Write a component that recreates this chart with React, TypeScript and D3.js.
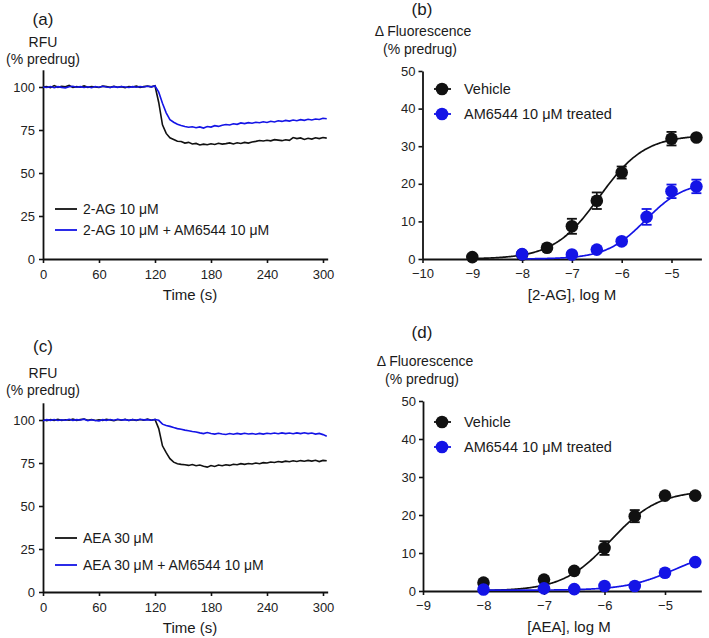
import { useEffect, useRef } from 'react'
import * as d3 from 'd3'

// sampling grid of the fluorescence traces (s)
const traceTimes = d3.range(0, 305, 4)

// panel (a): 2-AG traces, RFU % predrug
const agTrace = [
  100, 100.3, 99.6, 100.8, 99.8, 100.4, 100.1, 100.9, 99.7, 100.2, 99.9, 100.6, 99.8, 100.3, 100, 99.7,
  100.5, 100.2, 99.8, 100.4, 99.9, 100.2, 99.6, 100.3, 100, 100.5, 99.8, 100.2, 100.6, 100.1, 100.7,
  91, 78, 73, 70.5, 69.5, 68.5, 68.3, 67.4, 67.8, 66.9, 67.2, 66.3, 66.8, 66.4, 67, 66.6, 67.3, 66.8,
  67.1, 67.5, 66.9, 67.6, 67.2, 67.8, 67.4, 68, 68.4, 68.9, 68.6, 69, 68.7, 69.4, 69.1, 68.8, 69.3,
  69, 70.6, 70, 70.4, 69.5, 70.2, 69.7, 70.5, 70, 70.6, 70.3,
]
const agAmTrace = [
  100, 99.7, 100.3, 99.6, 100.2, 99.8, 99.5, 100.1, 100.4, 99.9, 100.2, 99.7, 100.1, 99.6, 100.3, 99.9,
  100.4, 100, 99.7, 100.2, 99.8, 100.3, 100, 99.7, 100.2, 99.9, 100.3, 100, 100.4, 100.1, 100.6,
  97, 90.5, 85, 81, 79.5, 78.3, 77.6, 77, 76.6, 76.9, 76.3, 76.8, 76.1, 77, 76.7, 77.5, 77.1, 77.8,
  78.2, 77.9, 78.6, 78.3, 79.1, 78.7, 79.3, 78.9, 79.5, 79.2, 79.8, 79.4, 80.1, 79.7, 80.4, 80, 80.6,
  80.2, 80.8, 80.4, 81, 80.6, 81.2, 80.8, 81.4, 81.1, 81.8, 81.5,
]

// panel (c): AEA traces
const aeaTrace = [
  100.3, 99.6, 100.2, 99.8, 100.4, 99.7, 100.1, 99.9, 100.5, 99.8, 100.2, 100.6, 99.9, 100.3, 99.7, 100.1,
  99.8, 100.4, 100, 99.6, 100.3, 99.9, 100.4, 99.7, 100.2, 99.8, 100.3, 99.9, 100.5, 99.9, 100.3,
  95, 85, 81, 77.5, 75.5, 74.6, 74.2, 74, 73.6, 74.1, 73.4, 73.8, 73.1, 72.6, 73.5, 73, 73.8, 73.4,
  74, 73.6, 74.3, 74, 74.6, 74.2, 74.7, 74.4, 75, 74.6, 75.2, 75, 75.6, 75.3, 75.9, 75.5, 76.1,
  75.7, 76.3, 75.9, 76.4, 76, 76.5, 76.1, 76.6, 75.8, 76.5, 76.3,
]
const aeaAmTrace = [
  99.6, 100.2, 99.8, 100.3, 99.7, 100.1, 99.9, 100.4, 99.8, 100.2, 100, 100.5, 99.6, 100.1, 99.7, 99.4,
  100.2, 99.8, 100.3, 99.9, 100.4, 100, 100.2, 99.8, 100.3, 99.9, 100.4, 100.1, 100.2, 99.9, 100.3,
  99.8, 97.6, 96.8, 96.3, 95.6, 95, 94.6, 94.1, 93.8, 93.3, 93, 92.5, 92.1, 92.7, 92.2, 91.8, 92.3,
  91.9, 91.6, 92.1, 91.7, 92.2, 91.8, 92.3, 91.9, 92.1, 91.7, 92.2, 91.8, 92.3, 92, 92.4, 92, 92.5,
  92.1, 92.4, 92, 92.5, 92.1, 92.6, 92.1, 92.4, 91.8, 92.2, 91.5, 90.6,
]

// panel (b): 2-AG concentration-response, log M / mean / SEM
const agLogDose = [-9, -8, -7.5, -7, -6.5, -6, -5, -4.5]
const agVehicle = [0.5, 1.2, 3, 8.7, 15.5, 23, 32, 32.3]
const agVehicleSem = [0.3, 0.3, 0.6, 2, 2.2, 1.6, 1.8, 0.6]
const agAmLogDose = [-8, -7, -6.5, -6, -5.5, -5, -4.5]
const agAm = [1.3, 1.2, 2.5, 4.7, 11.2, 18, 19.3]
const agAmSem = [0.3, 0.4, 0.6, 0.8, 2.1, 1.8, 1.8]

// panel (d): AEA concentration-response
const aeaLogDose = [-8, -7, -6.5, -6, -5.5, -5, -4.5]
const aeaVehicle = [2.2, 3, 5.3, 11.3, 19.7, 25.1, 25.1]
const aeaVehicleSem = [0.3, 0.4, 0.6, 1.8, 1.6, 0.6, 0.6]
const aeaAmLogDose = [-8, -7, -6.5, -6, -5.5, -5, -4.5]
const aeaAm = [0.4, 0.7, 0.5, 1.3, 1.3, 4.8, 7.6]
const aeaAmSem = [0.2, 0.2, 0.2, 0.3, 0.3, 0.5, 0.6]

// sigmoid fits: [bottom, top, logEC50, hill, fromX]
const agVehicleFit = [0, 33, -6.45, 0.95, -9]
const agAmFit = [0, 20.7, -5.52, 1.1, -8]
const aeaVehicleFit = [0, 26.5, -5.9, 1.1, -8]
const aeaAmFit = [0.2, 11, -4.85, 1.1, -8]

const traceTicks = [0, 60, 120, 180, 240, 300]
const rfuTicks = [0, 25, 50, 75, 100]
const deltaTicks = [0, 10, 20, 30, 40, 50]

const BLACK = '#111'
const BLUE = '#1414e6'
const FONT = '"Liberation Sans", Arial, sans-serif'

function App() {
  const svgRef = useRef(null)

  useEffect(() => {
    const svg = d3.select(svgRef.current)
    svg.selectAll('*').remove()

    const styleAxis = (g, fontSize = 13) => {
      g.select('.domain').attr('stroke', BLACK).attr('stroke-width', 1.8)
      g.selectAll('.tick line').attr('stroke', BLACK).attr('stroke-width', 1.6)
      g.selectAll('.tick text').attr('fill', '#222').style('font-family', FONT).style('font-size', `${fontSize}px`)
    }

    const text = (x, y, s, size, anchor = 'middle') =>
      svg
        .append('text')
        .attr('x', x)
        .attr('y', y)
        .attr('text-anchor', anchor)
        .style('font-family', FONT)
        .style('font-size', `${size}px`)
        .attr('fill', '#1a1a1a')
        .text(s)

    const tracePanel = (p) => {
      const x = d3.scaleLinear().domain([0, 305]).range([43, 43 + (280 * 305) / 300])
      const y = d3.scaleLinear().domain([0, 110]).range([p.y0, p.y0 - 172 * 1.1])

      svg
        .append('g')
        .attr('transform', `translate(0,${p.y0})`)
        .call(d3.axisBottom(x).tickValues(traceTicks).tickSize(4).tickSizeOuter(0).tickPadding(7))
        .call(styleAxis)
      svg
        .append('g')
        .attr('transform', 'translate(43,0)')
        .call(d3.axisLeft(y).tickValues(rfuTicks).tickSize(4).tickSizeOuter(0).tickPadding(4))
        .call(styleAxis)

      const line = d3
        .line()
        .x((d, i) => x(traceTimes[i]))
        .y((d) => y(d))
      p.series.forEach((s) => {
        svg.append('path').datum(s.values).attr('d', line).attr('fill', 'none')
          .attr('stroke', s.color).attr('stroke-width', 1.6)
      })

      p.series.forEach((s, i) => {
        const ly = p.legendY + i * (p.legendGap)
        svg.append('line').attr('x1', 55).attr('x2', 77).attr('y1', ly).attr('y2', ly)
          .attr('stroke', s.color).attr('stroke-width', 1.8)
        text(83, ly + 5, s.label, 14, 'start')
      })

      text(43, p.tagY, p.tag, 17)
      text(43, p.rfuY, 'RFU', 14)
      text(43, p.rfuY + 17, '(% predrug)', 14)
      text(190, p.y0 + 41, 'Time (s)', 15)
    }

    const dosePanel = (p) => {
      const x = d3.scaleLinear().domain(p.xDomain).range([p.x0, p.x0 + p.unit * (p.xDomain[1] - p.xDomain[0])])
      const y = d3.scaleLinear().domain([0, 50]).range([p.y0, p.y0 - p.h])

      svg
        .append('g')
        .attr('transform', `translate(0,${p.y0})`)
        .call(d3.axisBottom(x).tickValues(p.xTicks).tickFormat(d3.format('d')).tickSize(4).tickSizeOuter(0).tickPadding(6))
        .call(styleAxis)
      svg
        .append('g')
        .attr('transform', `translate(${p.x0},0)`)
        .call(d3.axisLeft(y).tickValues(deltaTicks).tickSize(4).tickSizeOuter(0).tickPadding(3))
        .call(styleAxis)

      const curve = d3
        .line()
        .x((d) => x(d[0]))
        .y((d) => y(d[1]))
        .curve(d3.curveMonotoneX)

      p.series.forEach((s) => {
        const [bottom, top, ec50, hill, from] = s.fit
        const pts = d3.range(from, -4.5 + 1e-9, 0.02).map((v) => [v, bottom + (top - bottom) / (1 + Math.pow(10, (ec50 - v) * hill))])
        svg.append('path').datum(pts).attr('d', curve).attr('fill', 'none')
          .attr('stroke', s.color).attr('stroke-width', 1.7)

        const g = svg.append('g')
        s.dose.forEach((dv, i) => {
          const cx = x(dv)
          const m = s.mean[i]
          const e = s.sem[i]
          g.append('line').attr('x1', cx).attr('x2', cx).attr('y1', y(m - e)).attr('y2', y(m + e))
            .attr('stroke', s.color).attr('stroke-width', 1.6)
          ;[m - e, m + e].forEach((v) => {
            g.append('line').attr('x1', cx - 5).attr('x2', cx + 5).attr('y1', y(v)).attr('y2', y(v))
              .attr('stroke', s.color).attr('stroke-width', 1.8)
          })
          g.append('circle').attr('cx', cx).attr('cy', y(m)).attr('r', 6.3).attr('fill', s.color)
        })
      })

      p.series.forEach((s, i) => {
        const ly = p.legendY + i * 25
        svg.append('line').attr('x1', 434).attr('x2', 451).attr('y1', ly).attr('y2', ly)
          .attr('stroke', s.color).attr('stroke-width', 1.8)
        svg.append('circle').attr('cx', 442).attr('cy', ly).attr('r', 6.3).attr('fill', s.color)
        text(464, ly + 5, s.label, 14.5, 'start')
      })

      text(p.tagX, p.tagY, p.tag, 17)
      text(p.titleX, p.titleY, '\u0394 Fluorescence', 14)
      text(p.titleX - 3, p.titleY + 18, '(% predrug)', 14)
      text(p.xTitleX, p.y0 + 41, p.xTitle, 15)
    }

    tracePanel({
      tag: '(a)',
      tagY: 25,
      rfuY: 47,
      y0: 259,
      legendY: 209,
      legendGap: 21,
      series: [
        { values: agTrace, color: BLACK, label: '2-AG 10 \u03bcM' },
        { values: agAmTrace, color: BLUE, label: '2-AG 10 \u03bcM + AM6544 10 \u03bcM' },
      ],
    })

    tracePanel({
      tag: '(c)',
      tagY: 352,
      rfuY: 378,
      y0: 592,
      legendY: 538,
      legendGap: 27,
      series: [
        { values: aeaTrace, color: BLACK, label: 'AEA 30 \u03bcM' },
        { values: aeaAmTrace, color: BLUE, label: 'AEA 30 \u03bcM + AM6544 10 \u03bcM' },
      ],
    })

    dosePanel({
      tag: '(b)',
      tagX: 422,
      tagY: 15,
      titleX: 423,
      titleY: 36,
      xDomain: [-10, -4.4],
      xTicks: [-10, -9, -8, -7, -6, -5],
      x0: 422.5,
      unit: 49.8,
      y0: 259,
      h: 188,
      legendY: 89,
      xTitle: '[2-AG], log M',
      xTitleX: 572,
      series: [
        { dose: agLogDose, mean: agVehicle, sem: agVehicleSem, fit: agVehicleFit, color: BLACK, label: 'Vehicle' },
        { dose: agAmLogDose, mean: agAm, sem: agAmSem, fit: agAmFit, color: BLUE, label: 'AM6544 10 \u03bcM treated' },
      ],
    })

    dosePanel({
      tag: '(d)',
      tagX: 422,
      tagY: 338,
      titleX: 425,
      titleY: 366,
      xDomain: [-9, -4.4],
      xTicks: [-9, -8, -7, -6, -5],
      x0: 423,
      unit: 60.5,
      y0: 591,
      h: 190,
      legendY: 422,
      xTitle: '[AEA], log M',
      xTitleX: 569,
      series: [
        { dose: aeaLogDose, mean: aeaVehicle, sem: aeaVehicleSem, fit: aeaVehicleFit, color: BLACK, label: 'Vehicle' },
        { dose: aeaAmLogDose, mean: aeaAm, sem: aeaAmSem, fit: aeaAmFit, color: BLUE, label: 'AM6544 10 \u03bcM treated' },
      ],
    })
  }, [])

  return (
    <svg
      ref={svgRef}
      width={709}
      height={638}
      style={{ position: 'absolute', left: 0, top: 0, background: '#fff' }}
    />
  )
}

export default App
